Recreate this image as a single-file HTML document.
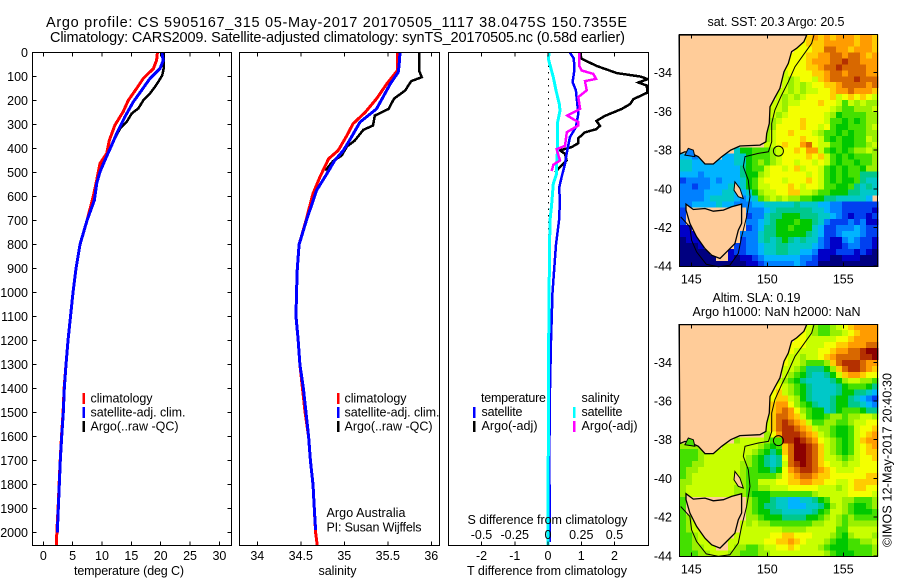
<!DOCTYPE html>
<html>
<head>
<meta charset="utf-8">
<title>Argo profile</title>
<style>
html,body{margin:0;padding:0;background:#fff;}
svg{display:block;}
text{font-family:"Liberation Sans",sans-serif;font-size:12.5px;fill:#000;}
</style>
</head>
<body>
<svg id="fig" xmlns="http://www.w3.org/2000/svg" width="900" height="580" viewBox="0 0 900 580">
<defs>
<clipPath id="clip3"><rect x="448.5" y="52.5" width="200" height="493"/></clipPath>
</defs>
<rect x="0" y="0" width="900" height="580" fill="#fff"/>
<text x="46" y="27" textLength="581" style="font-size:14.5px">Argo profile: CS 5905167_315 05-May-2017 20170505_1117 38.0475S 150.7355E</text>
<text x="50" y="42" textLength="575" style="font-size:14.5px">Climatology: CARS2009. Satellite-adjusted climatology: synTS_20170505.nc (0.58d earlier)</text>

<g id="layer-charts"></g>
<g id="layer-maps"></g>

<g>
<rect x="82.5" y="393" width="2.5" height="11" fill="#f00"/>
<rect x="82.5" y="407" width="2.5" height="11" fill="#00f"/>
<rect x="82.5" y="421" width="2.5" height="11" fill="#000"/>
<text x="90.5" y="402.5" textLength="62">climatology</text>
<text x="90.5" y="416.5" textLength="95">satellite-adj. clim.</text>
<text x="90.5" y="430.5" textLength="88">Argo(..raw -QC)</text>
</g>
<g>
<rect x="337" y="393" width="2.5" height="11" fill="#f00"/>
<rect x="337" y="407" width="2.5" height="11" fill="#00f"/>
<rect x="337" y="421" width="2.5" height="11" fill="#000"/>
<text x="344.5" y="402.5" textLength="62">climatology</text>
<text x="344.5" y="416.5" textLength="95">satellite-adj. clim.</text>
<text x="344.5" y="430.5" textLength="88">Argo(..raw -QC)</text>
<text x="326.5" y="517" textLength="79">Argo Australia</text>
<text x="326.5" y="531.5" textLength="95">PI: Susan Wijffels</text>
</g>
<g>
<text x="481" y="402" textLength="65">temperature</text>
<rect x="473" y="407" width="2.5" height="11" fill="#00f"/>
<rect x="473" y="421" width="2.5" height="11" fill="#000"/>
<text x="481.5" y="416" textLength="41">satellite</text>
<text x="481.5" y="430" textLength="56">Argo(-adj)</text>
<text x="581.5" y="402" textLength="38">salinity</text>
<rect x="573" y="407" width="2.5" height="11" fill="#0ff"/>
<rect x="573" y="421" width="2.5" height="11" fill="#f0f"/>
<text x="581.5" y="416" textLength="41">satellite</text>
<text x="581.5" y="430" textLength="56">Argo(-adj)</text>
</g>

<text x="74" y="575" textLength="110">temperature (deg C)</text>
<text x="318.5" y="575" textLength="38">salinity</text>
<text x="467" y="575" textLength="160">T difference from climatology</text>
<text x="467.5" y="524" textLength="160">S difference from climatology</text>

<text x="707.5" y="26" textLength="137">sat. SST: 20.3 Argo: 20.5</text>
<text x="712.5" y="302" textLength="88">Altim. SLA: 0.19</text>
<text x="692.5" y="316" textLength="168">Argo h1000: NaN h2000: NaN</text>
<text transform="translate(891.5,547) rotate(-90)" x="0" y="0" textLength="174">©IMOS 12-May-2017 20:40:30</text>
</svg>

<script>
// ---------- temperature panel data (deg C vs depth in m) ----------
const tempClimDepth = [0,32,67,108,150,199,247,303,365,421,462,532,601,700,800,900,1000,1100,1200,1300,1400,1500,1600,1700,1800,1900,2000,2054];
const tempClimValue = [19.43,19.3,18.75,17.04,15.9,14.48,13.6,12.2,11.26,10.8,9.66,9.1,8.5,7.44,6.25,5.57,5.06,4.63,4.2,3.87,3.55,3.38,3.1,2.88,2.7,2.52,2.3,2.25];
const tempSatDepth = [0,32,67,108,157,206,268,337,386,449,497,546,615,700,800,900,1000,1100,1200,1300,1400,1500,1600,1700,1800,1900,2000];
const tempSatValue = [20.17,20.45,19.88,18.18,16.76,15.33,13.9,12.5,11.65,10.5,9.66,9.1,8.7,7.44,6.25,5.57,5.06,4.63,4.2,3.87,3.58,3.41,3.13,2.9,2.73,2.55,2.39];
const tempArgoDepth = [0,60,94,111,143,171,199,233,254,289,317,358,400,449,476];
const tempArgoValue = [20.5,20.56,20.28,19.88,19.03,18.18,17.04,16.2,15.06,14.2,13.07,12.2,11.37,10.5,9.66];
const tempTicks = [0,5,10,15,20,25,30];
const depthTicks = [0,100,200,300,400,500,600,700,800,900,1000,1100,1200,1300,1400,1500,1600,1700,1800,1900,2000];

// ---------- salinity panel data ----------
const salClimDepth = [0,75,130,193,249,297,346,408,443,519,588,658,700,800,900,1000,1100,1200,1300,1400,1500,1600,1700,1800,1900,2000,2054];
const salClimValue = [35.61,35.61,35.49,35.37,35.24,35.10,35.03,34.93,34.82,34.72,34.64,34.59,34.56,34.48,34.46,34.45,34.445,34.47,34.49,34.52,34.55,34.59,34.61,34.64,34.655,34.67,34.69];
const salSatDepth = [0,54,82,130,235,290,360,408,450,505,575,630,693,800,900,1000,1100,1200,1300,1400,1500,1600,1700,1800,1900,1990];
const salSatValue = [35.64,35.63,35.62,35.53,35.37,35.18,35.07,34.99,34.89,34.80,34.68,34.63,34.57,34.48,34.46,34.45,34.445,34.47,34.49,34.53,34.56,34.59,34.61,34.64,34.655,34.67];
const salArgoDepth = [0,75,103,119,158,193,235,263,304,322,367,392,429,453,492];
const salArgoValue = [35.86,35.86,35.89,35.77,35.70,35.57,35.51,35.35,35.33,35.22,35.12,35.03,34.97,34.87,34.78];
const salTicks = [34,34.5,35,35.5,36];
const salTickLabels = ['34','34.5','35','35.5','36'];

// ---------- difference panel data ----------
const dtSatDepth = [0,26,75,123,158,214,256,311,353,422,464,519,561,631,700,800,1000,1200,1400,1600,1800,2000,2040];
const dtSatValue = [.66,.78,.79,.74,.84,.88,.91,.84,.66,.56,.51,.41,.34,.355,.33,.24,.135,.09,.06,.045,.045,.06,.06];
const dtArgoDepth = [0,26,56,86,100,111,125,138,167,194,215,235,264,285,306,319,333,357,378,394,408,422,450,478,499];
const dtArgoValue = [.96,1.01,1.46,2.07,2.77,3.0,2.72,2.97,2.99,2.57,2.47,2.22,1.71,1.46,1.56,1.46,1.11,.91,.91,.71,.36,.51,.56,.36,.21];
const dsSatDepth = [0,26,103,158,214,242,297,394,464,505,547,631,700,800,1000,1200,1600,2000,2054];
const dsSatValue = [.01,.002,.04,.06,.085,.09,.07,.073,.065,.065,.04,.028,.015,.012,.008,.005,.002,.001,.001];
const dsArgoDepth = [0,54,75,89,110,119,158,186,235,263,290,304,332,389,403,450,468,494];
const dsArgoValue = [.233,.233,.253,.341,.361,.278,.291,.228,.241,.145,.228,.228,.141,.128,.065,.09,.04,.028];
const dtTicks = [-2,-1,0,1,2];
const dsTicks = [-0.5,-0.25,0,0.25,0.5];
const dsTickLabels = ['-0.5','-0.25','0','0.25','0.5'];

// ---------- map data: each character is a colour level, '.' is land ----------
const levelColors = {'0':'#000080','1':'#0000c8','2':'#0040f0','3':'#0080ff','4':'#00b4ff','5':'#00c8c8','6':'#00c88c','7':'#00c800','8':'#44e000','9':'#99f000','a':'#c8ff00','b':'#f4ff00','c':'#ffcc00','d':'#ff9c00','e':'#d86800','f':'#b43000','g':'#8c0000'};
const sstRows = [
"....................bcdcdcdddcddc",
"....................bcccdddddcddc",
"...................bbbcceeddcdddc",
"..................bbbccddeedeedcd",
"..................bbbcdddeefeeddd",
".................bbbbccdeefeeeedd",
".................abbbbccdeedeeedd",
".................a9abbacdeeeefeee",
".................a9a9abbccdeeeede",
"................aa9a9aabbcddedddc",
"................a9a9abbbbcabcbcba",
"...............aa9aabbbcbba8a9a99",
"...............aa9bbbbbbba988999a",
"...............a9abbbbbba97888899",
"...............9abbbcbbba88787899",
"..............99bbbbcbbab8778889a",
"..............9abbcbbba9887878899",
"..............9abbbbcbba8787788a9",
"..............aabcbbdebaa8877889a",
".........5778889abbcbdda8787899a9",
"4434...445578889abbbbcbca87878889",
"554444444557898"+"9abbabbaba87887889",
"55444444446788abbabcabba878788799",
"44434444446779abbbbbbaba878788666",
"2333343444578abbbabbbcba878778655",
"3323344454578aabbbcbabba887786565",
"33334445544579aabbccaa98877766555",
"3333455554 345 89a9a99887766555554".replace(/ /g,''),
"334444544333445555565554433222222",
"2..........3334566666655433222221",
"2..........2335667776665543212212",
"2..........3345677787765322232311",
"11.........2346677877754223334322",
"111.......33356677777654223444322",
"0111......23356567656553211343221",
"0001.....223345566555543211233221",
"00000...1223345566554431112221"+"210",
"000000..1011234444443321100111000",
"000000000001123333343220000000000"
];
const slaRows = [
"....................ba9889abcdddd",
"....................ba98899abcddd",
"...................bbaaaaabbcdddd",
"..................bbbaaabbccdddee",
"..................baaaabbcddeefgg",
".................baa9aabcdeeeeffg",
".................baa98889cefffedd",
".................aa9866679ceffedc",
".................a98765567acddcbb",
"................a98765555679aa998",
"................ba987655556788876",
"...............bca987655556776654",
"...............bcca97655567765432",
"...............cddb98765567766543",
"...............cdedb9877567888766",
"..............aceedca877899899aa9",
"..............acefedca8899889aabb",
"..............aceffedca998778abbc",
"..............9bdfffedca98778abcd",
".........9aaaa988ffgfedba9878acd"+"d",
"9999...aaaaaa9878ceggfeca9878abcd",
"88899aaaaaaa98767ceggfeca9878abcc",
"8889aaaaaaa987656beggfecaa989abbc",
"8899aaaaaa9987656aefgfecbaa9aabbb",
"899aaaaaaa9887767bdeffedcbaaabbbb",
"89aaaaaaaa9888889bcdeedccbbbbbbcc",
"99aaaaaaaa988aaabbccddccbbaabcccc",
"9aaaaaaaa998899aaabbbbbaaa9abccbb",
"9aaaaaaaa99877788888889aaaaabbbba",
"8..........9877655445567"+"8aa998889",
"8..........987665544455"+"679a987789",
"8..........98776655555"+"678aa987778",
"89.........99877766667"+"789a9898888",
"89a.......a9a998888888"+"99aa9899999",
"89aa......aaaaaaa9999aaaaa88aaaaa",
"889a.....aaaaaabbccbbbaaa9879aaa9",
"889aa...aaaaaabbccdcbaaa98778899a",
"8899aa..a99889aabbcbaaa9877788889",
"88899aaa9988899aaaaaaaaa987778889"
];
const coastMainlandLon = [152.59,152.41,151.93,151.60,151.38,151.10,150.83,150.50,150.18,150.13,149.96,149.91,149.52,148.20,147.59,147.0,146.45,145.9,145.46,144.91,144.58,144.25,144.2];
const coastMainlandLat = [32.05,32.40,32.74,32.91,33.52,33.95,34.81,35.28,35.76,36.62,37.14,37.57,37.74,37.79,38.00,38.34,38.72,38.72,38.34,38.14,38.09,38.2,32.05];
const tasmaniaLon = [144.65,145.13,145.9,146.45,147.11,147.65,148.31,148.31,148.09,147.87,147.32,146.89,146.34,145.9,145.35,144.91,144.65];
const tasmaniaLat = [40.79,41.07,41.02,41.16,41.10,40.93,40.79,41.79,42.14,42.83,43.26,43.60,43.43,43.09,42.48,41.79,41.10];
const flindersLon = [147.87,148.2,148.42,148.09,147.81];
const flindersLat = [39.64,39.98,40.5,40.41,40.07];
const bayLon = [144.58,144.8,145.13,145.24];
const bayLat = [38.26,37.91,38.0,38.34];
const contourLon = [153.07,152.92,152.37,151.82,151.38,150.94,150.50,150.29,150.29,150.07,149.41,148.53,148.42,148.75,148.86,148.64,148.31,148.09,147.54,146.78,145.99,145.35,145.02,144.91,144.30];
const contourLat = [32.05,32.48,33.09,33.69,34.47,35.16,35.93,36.62,37.57,38.09,38.17,38.34,38.86,39.55,40.41,41.45,42.48,43.34,43.95,44.03,43.90,43.26,42.66,41.97,41.45];
const floatLon = 150.73;
const floatLat = 38.05;
const lonTicks = [145,150,155];
const latTicks = [34,36,38,40,42,44];

// ---------- helpers ----------
const NS = 'http://www.w3.org/2000/svg';
const chartLayer = document.getElementById('layer-charts');
const mapLayer = document.getElementById('layer-maps');
function mk(tag, parent, geom) {
  const el = document.createElementNS(NS, tag);
  for (const k in geom) el.setAttribute(k, geom[k]);
  parent.appendChild(el);
  return el;
}
const depthY = d => 52.5 + d * 0.24;
const tempX = v => 43.3 + v * 5.87;
const salX = v => 257.3 + (v - 34) * 87;
const dtX = v => 548 + v * 33.25;
const dsX = v => 548 + v * 133;
function pts(xs, ys, fx, fy) {
  return xs.map((v, i) => fx(v).toFixed(1) + ',' + fy(ys[i]).toFixed(1)).join(' ');
}
function series(parent, values, depths, fx, color, width, name, clip) {
  const el = mk('polyline', parent, {points: pts(values, depths, fx, depthY), fill: 'none', stroke: color, 'stroke-width': width, 'shape-rendering': 'crispEdges'});
  if (clip) el.setAttribute('clip-path', 'url(#clip3)');
  
  
}
function box(parent, x, y, w, h, name) {
  const el = mk('rect', parent, {x: x, y: y, width: w, height: h, fill: 'none', stroke: '#000', 'stroke-width': 1, 'shape-rendering': 'crispEdges'});
  
  
}
function xTicks(parent, ticks, fx, top, bottom) {
  ticks.forEach(v => {
    const a = mk('line', parent, {x1: fx(v), x2: fx(v), y1: top, y2: top + 4, stroke: '#000', 'shape-rendering': 'crispEdges'});
    
    
    const b = mk('line', parent, {x1: fx(v), x2: fx(v), y1: bottom - 4, y2: bottom, stroke: '#000', 'shape-rendering': 'crispEdges'});
    
    
  });
}
function xLabels(parent, ticks, labels, fx, y) {
  ticks.forEach((v, i) => {
    const t = mk('text', parent, {x: fx(v), y: y, 'text-anchor': 'middle'});
    t.textContent = labels[i];
    
    
  });
}

// ---------- temperature panel ----------
const pT = mk('g', chartLayer, {});


series(pT, tempArgoValue, tempArgoDepth, tempX, '#000', 2.5, 'temperature-argo-line');
series(pT, tempClimValue, tempClimDepth, tempX, '#f00', 3, 'temperature-climatology-line');
series(pT, tempSatValue, tempSatDepth, tempX, '#00f', 3, 'temperature-satellite-line');
box(pT, 32.5, 52.5, 199, 493, 'temperature-plot-frame');
xTicks(pT, tempTicks, tempX, 52.5, 545.5);
xLabels(pT, tempTicks, tempTicks.map(String), tempX, 560);
depthTicks.forEach(d => {
  const l = mk('line', pT, {x1: 32.5, x2: 36.5, y1: depthY(d), y2: depthY(d), stroke: '#000', 'shape-rendering': 'crispEdges'});
  
  
  const r = mk('line', pT, {x1: 227.5, x2: 231.5, y1: depthY(d), y2: depthY(d), stroke: '#000', 'shape-rendering': 'crispEdges'});
  
  
  const t = mk('text', pT, {x: 28, y: depthY(d) + 4.5, 'text-anchor': 'end'});
  t.textContent = String(d);
  
  
});

// ---------- salinity panel ----------
const pS = mk('g', chartLayer, {});


series(pS, salArgoValue, salArgoDepth, salX, '#000', 2.5, 'salinity-argo-line');
series(pS, salClimValue, salClimDepth, salX, '#f00', 3, 'salinity-climatology-line');
series(pS, salSatValue, salSatDepth, salX, '#00f', 3, 'salinity-satellite-line');
box(pS, 239.5, 52.5, 200, 493, 'salinity-plot-frame');
xTicks(pS, salTicks, salX, 52.5, 545.5);
xLabels(pS, salTicks, salTickLabels, salX, 560);

// ---------- difference panel ----------
const pD = mk('g', chartLayer, {});


const zeroLine = mk('line', pD, {x1: 548.5, x2: 548.5, y1: 52.5, y2: 545, stroke: '#000', 'stroke-width': 1, 'stroke-dasharray': '1.5 5', 'shape-rendering': 'crispEdges'});


series(pD, dtArgoValue, dtArgoDepth, dtX, '#000', 2.5, 't-difference-argo-line', true);
series(pD, dtSatValue, dtSatDepth, dtX, '#00f', 2.5, 't-difference-satellite-line', true);
series(pD, dsSatValue, dsSatDepth, dsX, '#0ff', 3, 's-difference-satellite-line', true);
series(pD, dsArgoValue, dsArgoDepth, dsX, '#f0f', 2.5, 's-difference-argo-line', true);
box(pD, 448.5, 52.5, 200, 493, 'difference-plot-frame');
xTicks(pD, dtTicks, dtX, 52.5, 545.5);
xLabels(pD, dtTicks, dtTicks.map(String), dtX, 560);
xLabels(pD, dsTicks, dsTickLabels, dsX, 539);

// ---------- maps ----------
function drawMap(rows, cfg) {
  const g = mk('g', mapLayer, {});
  
  
  const lonX = lon => 691.3 + (lon - 145) * 15.2;
  const latY = lat => cfg.lat34 + (lat - 34) * 19.35;
  const bg = mk('rect', g, {x: 679.5, y: cfg.top, width: 198, height: cfg.bottom - cfg.top, fill: '#ffcc99'});
  
  
  const lonStart = 144.25, lonStep = 0.395, latStart = 32.03, latStep = 0.3077;
  rows.forEach((row, r) => {
    for (let c = 0; c < 33; c++) {
      const ch = row[c];
      if (ch === '.' || ch === undefined) continue;
      const x = lonX(lonStart + c * lonStep), y = latY(latStart + r * latStep);
      const cell = mk('rect', g, {x: x.toFixed(2), y: y.toFixed(2), width: 6.3, height: 6.25, fill: levelColors[ch], 'shape-rendering': 'crispEdges'});
      
      
    }
  });
  const mainland = mk('polygon', g, {points: pts(coastMainlandLon, coastMainlandLat, lonX, latY), fill: '#ffcc99', stroke: '#000', 'stroke-width': 1.3});
  
  
  const bay = mk('polygon', g, {points: pts(bayLon, bayLat, lonX, latY), fill: cfg.bay, stroke: '#000', 'stroke-width': 1});
  
  
  const tas = mk('polygon', g, {points: pts(tasmaniaLon, tasmaniaLat, lonX, latY), fill: '#ffcc99', stroke: '#000', 'stroke-width': 1.3});
  
  
  const fl = mk('polygon', g, {points: pts(flindersLon, flindersLat, lonX, latY), fill: '#ffcc99', stroke: '#000', 'stroke-width': 1});
  
  
  const contour = mk('polyline', g, {points: pts(contourLon, contourLat, lonX, latY), fill: 'none', stroke: '#000', 'stroke-width': 1});
  
  
  const dot = mk('circle', g, {cx: lonX(floatLon), cy: latY(floatLat), r: 5, fill: 'none', stroke: '#000', 'stroke-width': 1});
  
  
  box(g, 679.5, cfg.top, 198, cfg.bottom - cfg.top, 'map-frame');
  xTicks(g, lonTicks, lonX, cfg.top, cfg.bottom);
  xLabels(g, lonTicks, lonTicks.map(String), lonX, cfg.bottom + 17);
  latTicks.forEach(v => {
    const tick = mk('line', g, {x1: 873.5, x2: 877.5, y1: latY(v), y2: latY(v), stroke: '#000', 'shape-rendering': 'crispEdges'});
    
    
    const t = mk('text', g, {x: 672, y: Math.min(latY(v) + 4.5, cfg.bottom + 4.5), 'text-anchor': 'end'});
    t.textContent = '-' + v;
    
    
  });
}
drawMap(sstRows, {name: 'sst-map', cell: 'sst-cell', top: 34.5, bottom: 266.5, lat34: 72.7, bay: '#0080ff'});
drawMap(slaRows, {name: 'sla-map', cell: 'sla-cell', top: 324.5, bottom: 556.5, lat34: 362.3, bay: '#44e000'});
</script>
</body>
</html>
